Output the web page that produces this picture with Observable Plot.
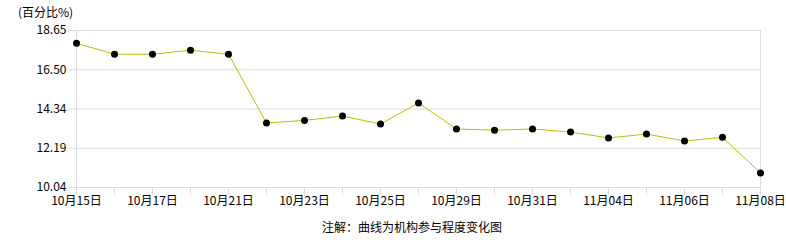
<!DOCTYPE html>
<html>
<head>
<meta charset="utf-8">
<script src="https://cdn.jsdelivr.net/npm/d3@7"></script>
<script src="https://cdn.jsdelivr.net/npm/@observablehq/plot@0.6"></script>
<style>
  body { margin: 0; background: #fff; }
  #wrap { position: relative; width: 786px; height: 240px; font-family: "Noto Sans CJK SC", sans-serif; font-size: 12px; color: #000; }
  #title { position: absolute; left: 18px; top: 3px; line-height: 18px; white-space: nowrap; }
  #caption { position: absolute; left: 0; width: 824px; top: 218px; line-height: 18px; text-align: center; white-space: nowrap; }
  svg { display: block; }
</style>
</head>
<body>
<div id="wrap">
  <div id="chart"></div>
  <div id="title">(百分比%)</div>
  <div id="caption">注解：曲线为机构参与程度变化图</div>
</div>
<script>
const dates = ["10月15日","10月16日","10月17日","10月18日","10月21日","10月22日","10月23日","10月24日","10月25日","10月28日","10月29日","10月30日","10月31日","11月01日","11月04日","11月05日","11月06日","11月07日","11月08日"];
const values = [17.95, 17.35, 17.35, 17.57, 17.35, 13.58, 13.72, 13.96, 13.52, 14.67, 13.25, 13.18, 13.25, 13.08, 12.76, 12.97, 12.59, 12.79, 10.84];
const labeledDates = ["10月15日","10月17日","10月21日","10月23日","10月25日","10月29日","10月31日","11月04日","11月06日","11月08日"];
const yTicks = [10.04, 12.19, 14.34, 16.50, 18.65];

const data = dates.map((d, i) => ({date: d, value: values[i]}));

const chart = Plot.plot({
  width: 786,
  height: 240,
  marginLeft: 76,
  marginRight: 26,
  marginTop: 30,
  marginBottom: 53,
  style: {fontFamily: "'Noto Sans CJK SC', sans-serif", fontSize: "12px", color: "#000", background: "#fff"},
  x: {type: "point", domain: dates, padding: 0},
  y: {domain: [yTicks[0], yTicks[yTicks.length - 1]]},
  marks: [
    Plot.gridY(yTicks, {stroke: "#dddddd", strokeOpacity: 1}),
    Plot.ruleX([dates[0], dates[dates.length - 1]], {stroke: "#dddddd", strokeOpacity: 1}),
    Plot.axisY({ticks: yTicks, tickSize: 8, tickPadding: 2, tickFormat: d => d.toFixed(2), stroke: "#dddddd", strokeOpacity: 1, fill: "#000", label: null}),
    Plot.axisX({ticks: dates, tickSize: 8, tickPadding: 1, tickFormat: d => labeledDates.includes(d) ? d : "", stroke: "#dddddd", strokeOpacity: 1, fill: "#000", label: null}),
    Plot.line(data, {x: "date", y: "value", stroke: "#bdbd00", strokeWidth: 1}),
    Plot.dot(data, {x: "date", y: "value", r: 3.5, fill: "#000", stroke: "none"})
  ]
});
document.getElementById("chart").appendChild(chart);
</script>
</body>
</html>
